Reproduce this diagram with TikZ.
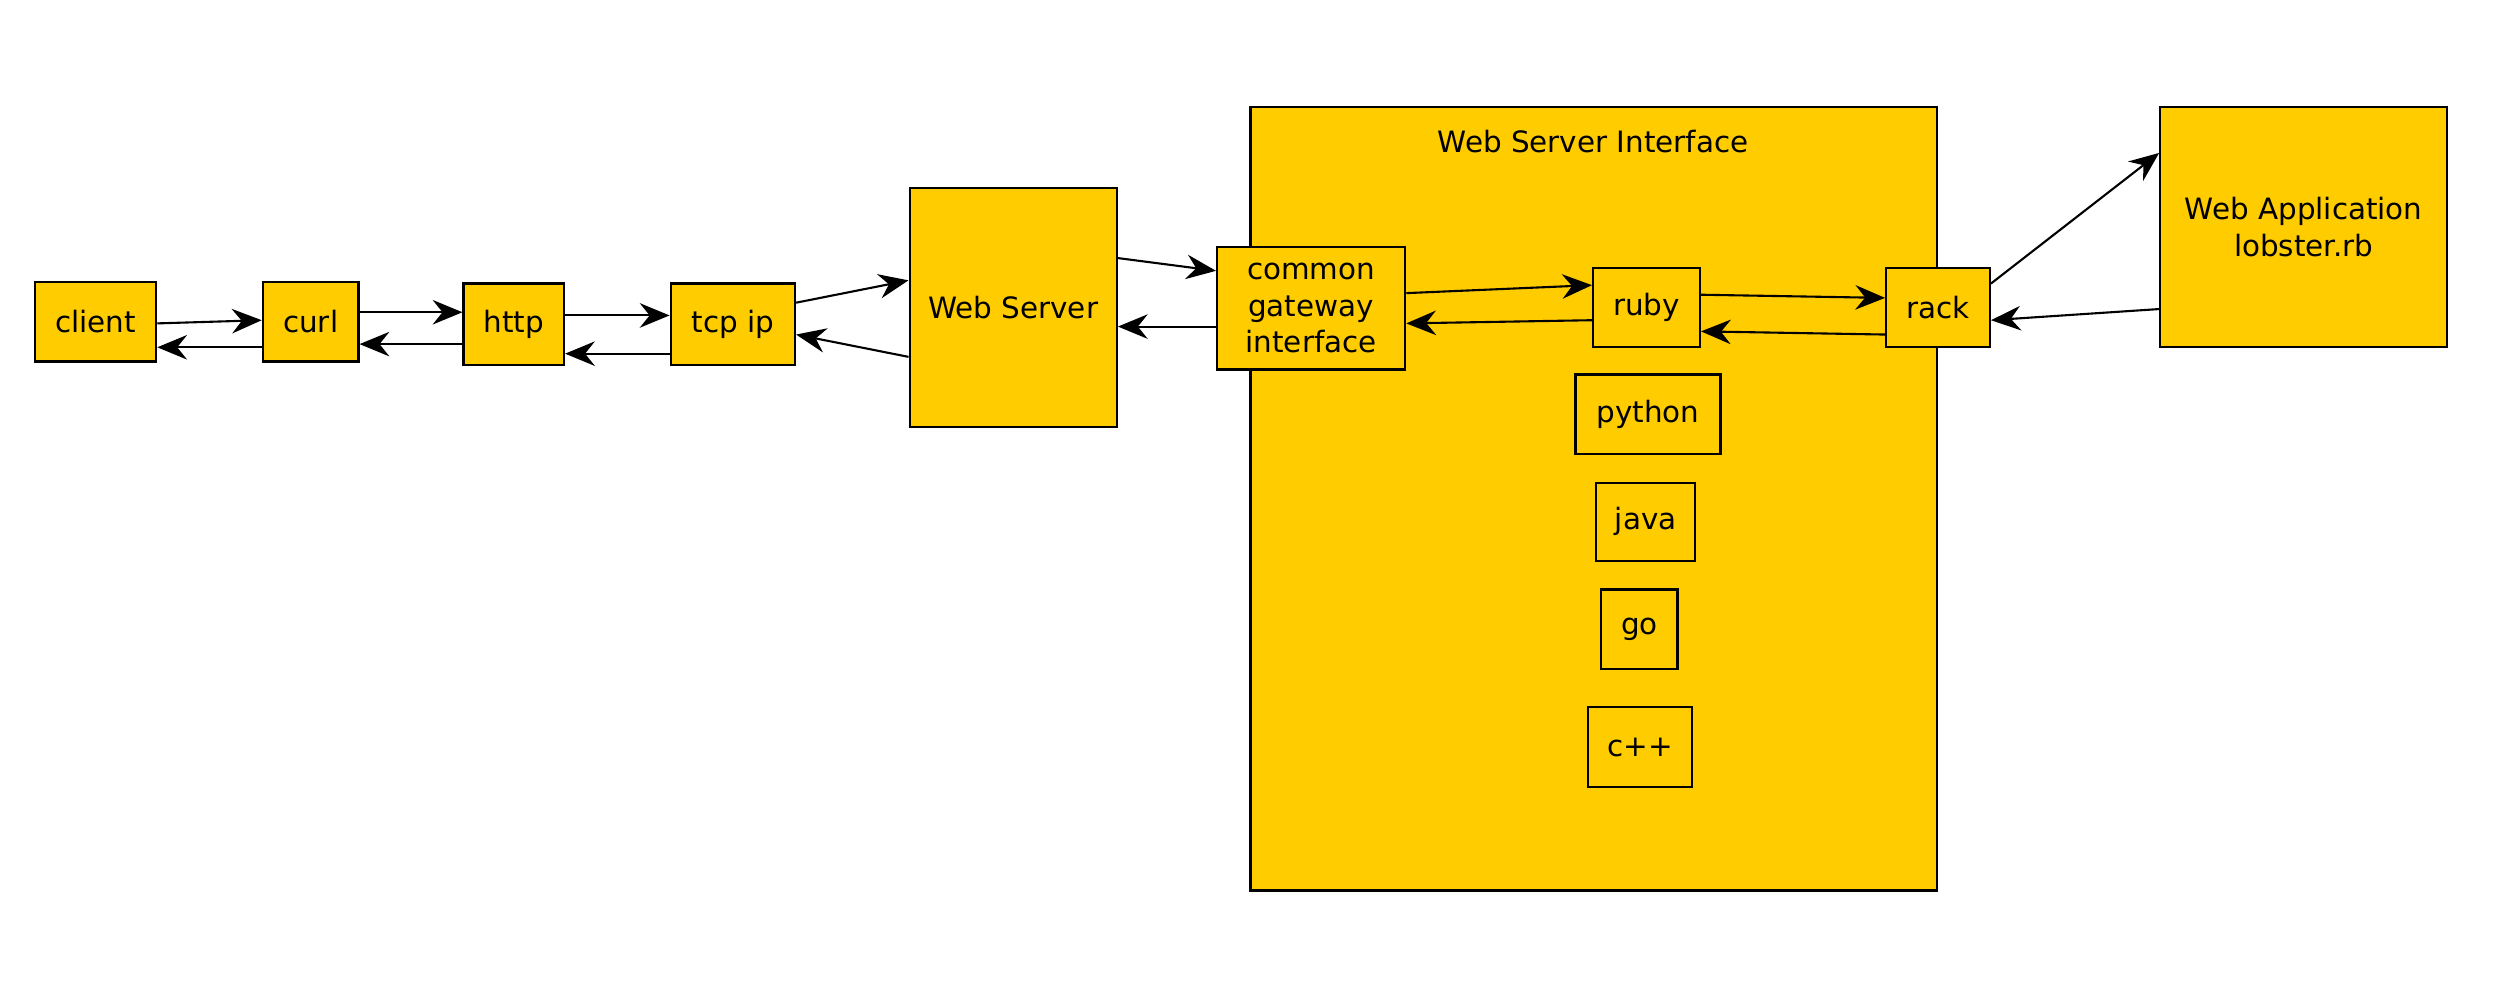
\documentclass[tikz,border=0pt]{standalone}
\usepackage{fontspec}
\setmainfont{DejaVu Sans}
\usetikzlibrary{arrows.meta}
\definecolor{gold}{RGB}{255,204,0}
\newcommand{\unitpx}{0.16mm}

\begin{document}
\begin{tikzpicture}[x=\unitpx, y=-\unitpx,
    txt/.style={font=\fontsize{8.4}{10.4}\selectfont, align=center},
    blk/.style={txt, draw, fill=gold, line width=0.65pt, inner sep=0pt},
    arr/.style={-{Stealth[length=8.5pt,width=7pt,inset=2.8pt]}, line width=0.6pt}]
               \useasboundingbox (0,0) rectangle (1568,621);
               % the big interface box first, so the small ones sit on it
               \node[blk, minimum width=431*\unitpx, minimum height=492*\unitpx] (wsi) at (1000.5,313) {};
               \node[txt] (wsititle) at (1000,89) {Web Server Interface};
               % left chain
               \node[blk, minimum width=76*\unitpx, minimum height=50*\unitpx] (client) at (60,202) {client};
               \node[blk, minimum width=60*\unitpx, minimum height=50*\unitpx] (curl) at (195,202) {curl};
               \node[blk, minimum width=63*\unitpx, minimum height=51*\unitpx] (http) at (322.5,203.5) {http};
               \node[blk, minimum width=78*\unitpx, minimum height=51*\unitpx] (tcp) at (460,203.5) {tcp ip};
               \node[blk, minimum width=130*\unitpx, minimum height=150*\unitpx] (ws) at (636,193) {Web Server};
               % inside the interface
               \node[blk, minimum width=118*\unitpx, minimum height=77*\unitpx] (cgi) at (823,193.5) {common\\gateway\\interface};
               \node[blk, minimum width=67*\unitpx, minimum height=50*\unitpx] (ruby) at (1033.5,193) {ruby};
               \node[blk, minimum width=65*\unitpx, minimum height=50*\unitpx] (rack) at (1216.5,193) {rack};
               \node[blk, minimum width=91*\unitpx, minimum height=50*\unitpx] (python) at (1034.5,260) {python};
               \node[blk, minimum width=62*\unitpx, minimum height=49*\unitpx] (java) at (1033,327.5) {java};
               \node[blk, minimum width=48*\unitpx, minimum height=50*\unitpx] (go) at (1029,395) {go};
               \node[blk, minimum width=65*\unitpx, minimum height=50*\unitpx] (cpp) at (1029.5,469) {c++};
               % the application
               \node[blk, minimum width=180*\unitpx, minimum height=151*\unitpx] (app) at (1446,142.5) {Web Application\\lobster.rb};
               % arrows, there and back
               \draw[arr] (client.east |- 0,203) -- (curl.west |- 0,201);
               \draw[arr] (curl.west |- 0,218) -- (client.east |- 0,218);
               \draw[arr] (curl.east |- 0,196) -- (http.west |- 0,196);
               \draw[arr] (http.west |- 0,216) -- (curl.east |- 0,216);
               \draw[arr] (http.east |- 0,198) -- (tcp.west |- 0,198);
               \draw[arr] (tcp.west |- 0,222) -- (http.east |- 0,222);
               \draw[arr] (tcp.east |- 0,190) -- (ws.west |- 0,176);
               \draw[arr] (ws.west |- 0,224) -- (tcp.east |- 0,210);
               \draw[arr] (ws.east |- 0,162) -- (cgi.west |- 0,170);
               \draw[arr] (cgi.west |- 0,205) -- (ws.east |- 0,205);
               \draw[arr] (cgi.east |- 0,184) -- (ruby.west |- 0,179);
               \draw[arr] (ruby.west |- 0,201) -- (cgi.east |- 0,203);
               \draw[arr] (ruby.east |- 0,185) -- (rack.west |- 0,187);
               \draw[arr] (rack.west |- 0,210) -- (ruby.east |- 0,208);
               \draw[arr] (rack.east |- 0,178) -- (app.west |- 0,96);
               \draw[arr] (app.west |- 0,194) -- (rack.east |- 0,201);
\end{tikzpicture}
\end{document}
